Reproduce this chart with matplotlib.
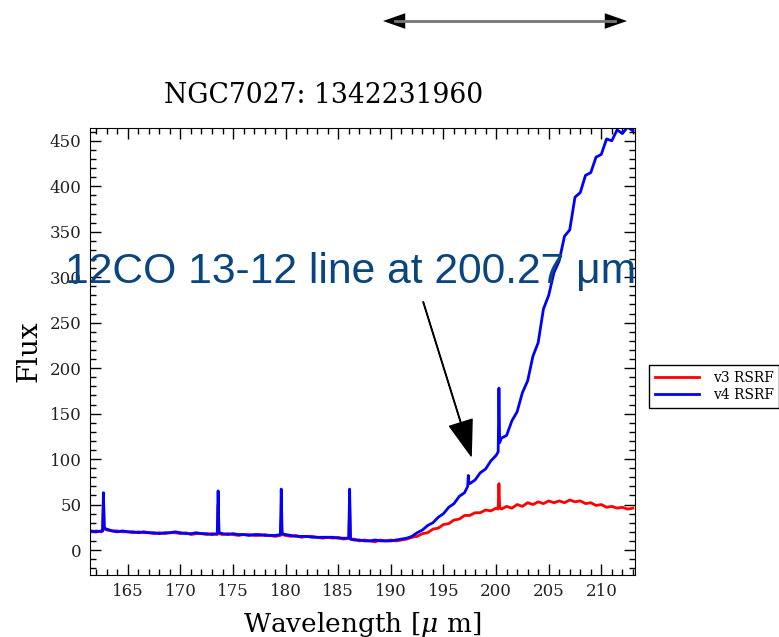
# NGC7027 spectrum: v3 vs v4 RSRF
import numpy as np
import matplotlib.pyplot as plt
from matplotlib.patches import FancyArrowPatch
from matplotlib.ticker import MultipleLocator

plt.rcParams['font.family'] = 'DejaVu Serif'
plt.rcParams['mathtext.fontset'] = 'dejavuserif'

# continuum sampled every 0.5 um, 161.5 .. 213.0
wl = np.arange(161.5, 213.01, 0.5)

head_v4 = [21, 20, 21, 23, 21, 20, 21, 20, 20, 19, 20, 19, 19, 18, 19, 19, 20, 19, 18, 18,
           19, 18, 18, 17, 18, 18, 17, 18, 17, 17, 16, 17, 17, 16, 16, 16, 17, 17, 16, 15,
           15, 15, 14, 14, 14, 14, 14, 13, 13, 13, 11, 11, 10, 10, 11, 10, 10, 10, 11, 12]
tail_v4 = [13, 15, 19, 22, 27, 30, 36, 40, 47, 51, 59, 63, 73, 77, 85, 89, 98, 104, 123, 126,
           142, 152, 173, 186, 213, 228, 265, 280, 305, 318, 345, 352, 388, 393, 412, 415, 432, 435, 452, 450,
           462, 458, 465, 461]

head_v3 = [20, 21, 20, 22, 21, 21, 20, 20, 19, 20, 19, 19, 18, 19, 18, 19, 19, 18, 19, 17,
           18, 18, 17, 18, 17, 17, 18, 17, 16, 17, 17, 16, 16, 17, 16, 15, 16, 16, 15, 16,
           14, 15, 15, 14, 13, 14, 13, 14, 12, 13, 12, 10, 11, 10, 9, 11, 10, 11, 10, 11]
tail_v3 = [12, 14, 15, 18, 19, 23, 24, 28, 29, 33, 34, 38, 38, 41, 41, 44, 43, 46, 45, 48,
           46, 50, 48, 52, 50, 53, 51, 54, 52, 54, 52, 55, 53, 54, 51, 52, 49, 50, 47, 48,
           46, 47, 45, 46]

# narrow emission lines
spike_wl_v4 = [162.6, 162.68, 162.76, 173.5, 173.58, 173.66, 179.5, 179.58, 179.66,
               186.0, 186.08, 186.16, 197.3, 197.36, 197.42, 200.2, 200.27, 200.34]
spike_v4 = [21, 63, 24, 18, 65, 19, 17, 67, 18, 13, 67, 12, 70, 82, 73, 108, 178, 118]
spike_wl_v3 = [162.6, 162.68, 162.76, 173.5, 173.58, 173.66, 179.5, 179.58, 179.66,
               186.0, 186.08, 186.16, 200.2, 200.27, 200.34]
spike_v3 = [21, 55, 23, 18, 50, 18, 17, 34, 17, 13, 50, 12, 45, 73, 47]


def merge(base_wl, base_flux, s_wl, s_flux):
    x = np.concatenate([base_wl, s_wl])
    y = np.concatenate([base_flux, s_flux])
    order = np.argsort(x)
    return x[order], y[order]


x3, y3 = merge(wl, head_v3 + tail_v3, spike_wl_v3, spike_v3)
x4, y4 = merge(wl, head_v4 + tail_v4, spike_wl_v4, spike_v4)

fig = plt.figure(figsize=(7.79, 6.37), dpi=100)
ax = fig.add_axes([0.1155, 0.0973, 0.6996, 0.7017])

ax.plot(x3, y3, color='red', lw=2, label='v3 RSRF')
ax.plot(x4, y4, color='blue', lw=2, label='v4 RSRF')

ax.set_xlim(161.4, 213.2)
ax.set_ylim(-27.5, 464)
ax.xaxis.set_major_locator(MultipleLocator(5))
ax.xaxis.set_minor_locator(MultipleLocator(1))
ax.yaxis.set_major_locator(MultipleLocator(50))
ax.yaxis.set_minor_locator(MultipleLocator(10))
ax.tick_params(which='both', direction='in', top=True, right=True, labelsize=12,
               labelcolor='#222222', width=1)
ax.tick_params(which='major', length=8, pad=6)
ax.tick_params(which='minor', length=4.5)

ax.set_xlabel(r'Wavelength [$\mu$ m]', fontsize=19, labelpad=7)
ax.set_ylabel('Flux', fontsize=20, labelpad=5)
fig.text(324 / 779, 1 - 103 / 637, 'NGC7027: 1342231960', fontsize=19.2,
         ha='center', va='baseline')

ax.text(159.0, 293.8, '12CO 13-12 line at 200.27 \u03bcm', fontsize=30.7,
        family='Liberation Sans', color='#0a4580', va='baseline', clip_on=False)
ax.annotate('', xy=(197.63, 103.5), xytext=(193.07, 272.9),
            arrowprops=dict(facecolor='black', edgecolor='black', width=0.4,
                            headwidth=17, headlength=25, shrink=0))

ax.legend(loc='upper left', bbox_to_anchor=(649 / 779, 1 - 365 / 637),
          bbox_transform=fig.transFigure, borderaxespad=0, fancybox=False,
          edgecolor='black', framealpha=1, fontsize=10, handlelength=3.2,
          handletextpad=1.0, labelspacing=0.25, borderpad=0.4)

# double arrow above the title
fig.add_artist(FancyArrowPatch((383 / 779, 0.967), (627 / 779, 0.967),
                               transform=fig.transFigure,
                               arrowstyle='<|-|>,head_length=1.0,head_width=0.35',
                               mutation_scale=16, color='black', lw=0,
                               shrinkA=0, shrinkB=0))
fig.add_artist(plt.Line2D([395 / 779, 615 / 779], [0.967, 0.967],
                          transform=fig.transFigure, color='#777777', lw=2))

fig.savefig('out.png', dpi=100)
